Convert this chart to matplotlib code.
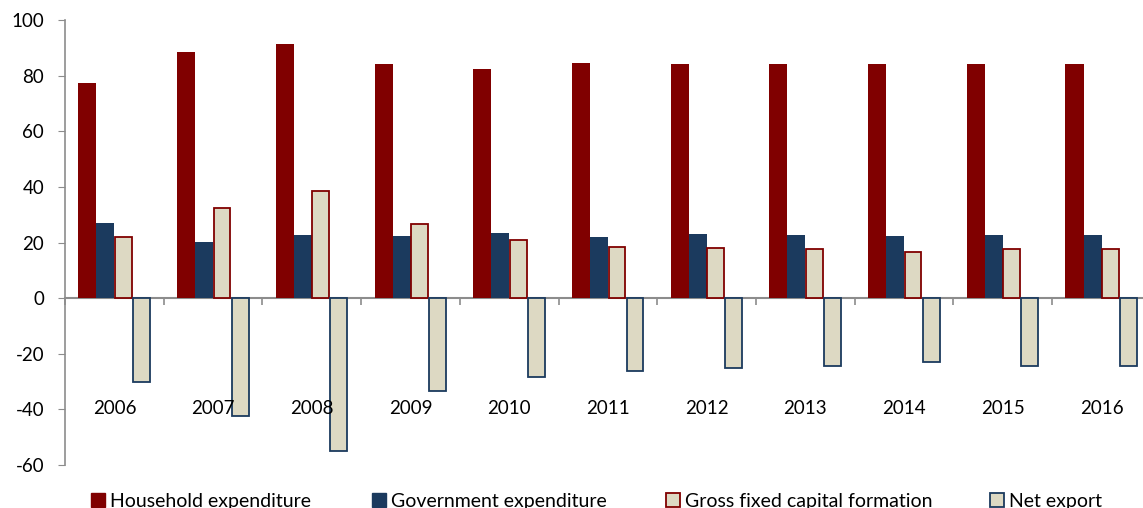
import numpy as np
import matplotlib.pyplot as plt
import matplotlib.patches as mpatches

plt.rcParams['font.family'] = ['Lato', 'DejaVu Sans']
plt.rcParams['axes.unicode_minus'] = False

years = ['2006', '2007', '2008', '2009', '2010', '2011', '2012', '2013', '2014', '2015', '2016']
household = [77.3, 88.5, 91.4, 84.2, 82.4, 84.5, 84.2, 84.2, 84.2, 84.2, 84.2]
government = [27.0, 20.1, 22.7, 22.3, 23.4, 21.9, 23.0, 22.7, 22.3, 22.7, 22.7]
gfcf = [21.9, 32.4, 38.5, 26.6, 20.9, 18.3, 18.0, 17.6, 16.5, 17.6, 17.6]
net_export = [-30.2, -42.4, -55.0, -33.5, -28.4, -26.3, -25.2, -24.5, -23.0, -24.5, -24.5]

series_names = ['Household expenditure', 'Government expenditure',
                'Gross fixed capital formation', 'Net export']

red = '#800000'
navy = '#1B3A5E'
beige = '#DDD9C3'
grey = '#8C8C8C'

fig = plt.figure(figsize=(11.43, 5.08), dpi=100)
ax = fig.add_axes([0.0569, 0.0846, 0.95, 0.876])

x = np.arange(len(years))
w = 0.1825
ax.bar(x - 1.5 * w, household, w, color=red, label=series_names[0])
ax.bar(x - 0.5 * w, government, w, color=navy, label=series_names[1])
ax.bar(x + 0.5 * w, gfcf, w * 0.93, color=beige, edgecolor=red, linewidth=1.3, label=series_names[2])
ax.bar(x + 1.5 * w, net_export, w * 0.93, color=beige, edgecolor=navy, linewidth=1.3, label=series_names[3])

ax.set_xlim(-0.5, 10.5)
ax.set_ylim(-60, 100)
ax.set_yticks(np.arange(-60, 101, 20))
ax.set_xticks(np.arange(-0.5, 11, 1))
ax.set_xticklabels([])

# year labels sit in the middle of the negative area, as in the original
for xi, yr in zip(x, years):
    ax.text(xi, -39.5, yr, ha='center', va='center', fontsize=13.5)

ax.spines['top'].set_visible(False)
ax.spines['right'].set_visible(False)
ax.spines['bottom'].set_position(('data', 0))
ax.spines['bottom'].set_color(grey)
ax.spines['left'].set_color(grey)
ax.spines['bottom'].set_linewidth(1.5)
ax.spines['left'].set_linewidth(1.2)
ax.spines['bottom'].set_zorder(0.5)
ax.tick_params(axis='y', direction='out', length=5, color=grey, labelsize=13.5, pad=10)
ax.tick_params(axis='x', direction='out', length=5, color=grey, width=1.2)

# legend entries spread along the bottom edge
handles = [
    mpatches.Patch(facecolor=red, edgecolor=red),
    mpatches.Patch(facecolor=navy, edgecolor=navy),
    mpatches.Patch(facecolor=beige, edgecolor=red, linewidth=1.3),
    mpatches.Patch(facecolor=beige, edgecolor=navy, linewidth=1.3),
]
leg_x = [0.0796, 0.3255, 0.5827, 0.8661]
for h, name, lx in zip(handles, series_names, leg_x):
    leg = fig.legend(handles=[h], labels=[name], loc='lower left', bbox_to_anchor=(lx, -0.004),
                     frameon=False, fontsize=14, handlelength=0.7, handleheight=0.7,
                     handletextpad=0.3, borderpad=0, borderaxespad=0)

fig.savefig('out.png', dpi=100)
